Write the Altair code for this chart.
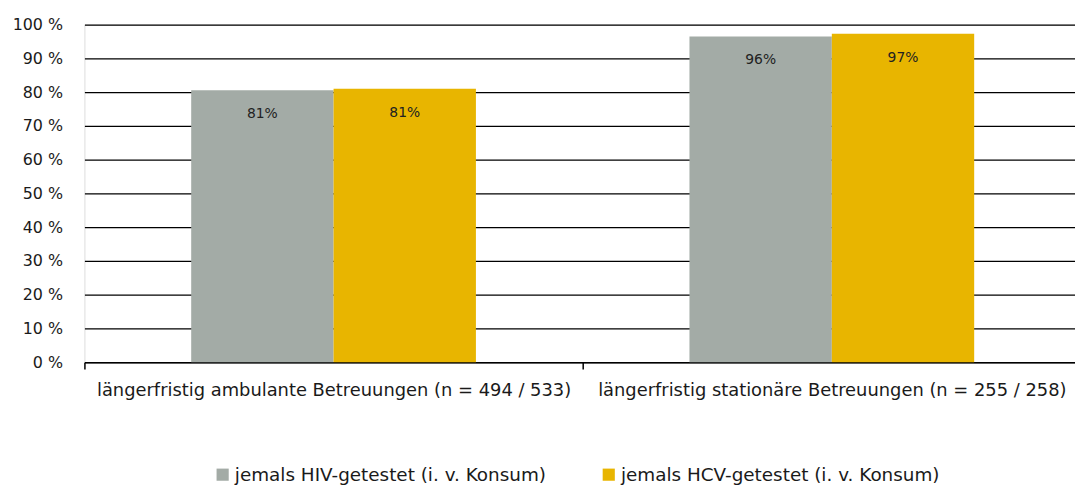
import altair as alt
import pandas as pd

categories = [
    "längerfristig ambulante Betreuungen (n = 494 / 533)",
    "längerfristig stationäre Betreuungen (n = 255 / 258)",
]
series = ["jemals HIV-getestet (i. v. Konsum)", "jemals HCV-getestet (i. v. Konsum)"]
hiv_values = [80.6, 96.5]
hcv_values = [81.0, 97.3]
hiv_labels = ["81%", "96%"]
hcv_labels = ["81%", "97%"]
colors = ["#A3ABA6", "#E8B500"]
y_ticks = [0, 10, 20, 30, 40, 50, 60, 70, 80, 90, 100]

rows = []
for i, c in enumerate(categories):
    rows.append(dict(cat=c, series=series[0], value=hiv_values[i], label=hiv_labels[i]))
    rows.append(dict(cat=c, series=series[1], value=hcv_values[i], label=hcv_labels[i]))
df = pd.DataFrame(rows)

base = alt.Chart(df).encode(
    x=alt.X(
        "cat:N", sort=categories, title=None,
        scale=alt.Scale(paddingInner=0, paddingOuter=0, range=[0, 1004]),
        axis=alt.Axis(labelAngle=0, tickBand="extent", tickSize=7, domainColor="#000",
                      tickColor="#000", labelFontSize=18, labelPadding=13,
                      labelColor="#1a1a1a", grid=False, domainWidth=1.5, tickWidth=1.5,
                      labelLimit=600),
    ),
    xOffset=alt.XOffset("series:N", sort=series,
                        scale=alt.Scale(paddingInner=0, paddingOuter=0.75)),
    y=alt.Y(
        "value:Q", title=None, scale=alt.Scale(domain=[0, 100]),
        axis=alt.Axis(values=y_ticks, labelExpr="datum.value + ' %'", domain=False,
                      ticks=False, gridColor="#000", gridWidth=1.3, labelFontSize=16,
                      labelPadding=22, labelColor="#1a1a1a"),
    ),
)

bars = base.mark_bar().encode(
    color=alt.Color(
        "series:N", sort=series,
        scale=alt.Scale(domain=series, range=colors),
        legend=alt.Legend(orient="none", legendX=130, legendY=444, direction="horizontal",
                          title=None, symbolType="square", symbolSize=150,
                          symbolStrokeWidth=0, labelFontSize=18.5, columnPadding=53,
                          labelOffset=3, padding=0, labelLimit=500, labelColor="#1a1a1a"),
    )
)
text = base.mark_text(dy=24, baseline="middle", fontSize=14, color="#222").encode(
    text="label:N"
)

chart = (
    (bars + text)
    .properties(width=998, height=340,
                autosize=alt.AutoSizeParams(type="none"),
                padding={"left": 77, "top": 15, "right": 0, "bottom": 125})
    .configure_view(stroke=None)
    .configure(font="DejaVu Sans")
)
chart.save("out.html", embed_options={"renderer": "svg", "actions": False})
